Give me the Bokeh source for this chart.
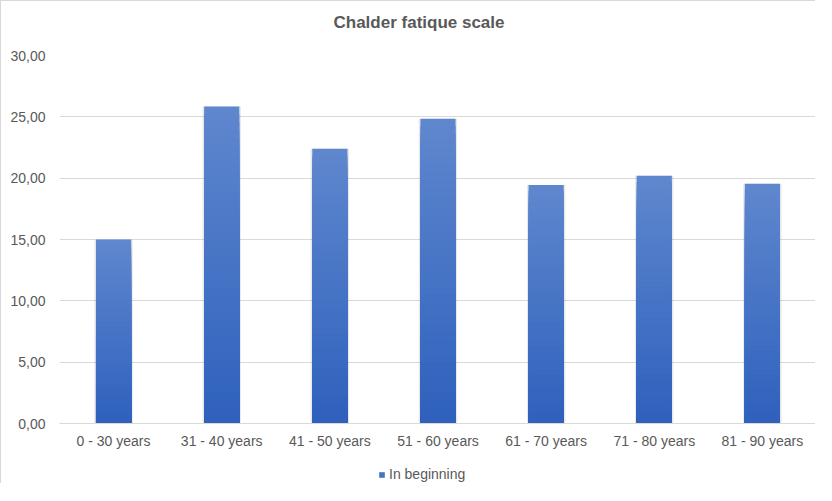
from bokeh.plotting import figure
from bokeh.layouts import column
from bokeh.core.properties import value
from bokeh.models import (ColumnDataSource, Range1d, FixedTicker, CustomJSTickFormatter,
                          Legend, LegendItem)
from bokeh.embed import file_html
from bokeh.resources import INLINE

categories = ["0 - 30 years", "31 - 40 years", "41 - 50 years", "51 - 60 years",
              "61 - 70 years", "71 - 80 years", "81 - 90 years"]
values = [15.0, 25.85, 22.4, 24.85, 19.45, 20.2, 19.55]
y_ticks = [0, 5, 10, 15, 20, 25, 30]
series_name = "In beginning"
chart_title = "Chalder fatique scale"

FONT = "Liberation Sans"
GREY = "#595959"
GRID = "#d9d9d9"
TOP_RGB = (95, 135, 206)
BOT_RGB = (46, 97, 189)
LEGEND_BLUE = "#4573c5"
BAR_W = 0.325
N = 40

# ---- header strip with the chart title ----
t = figure(width=815, height=46, x_range=Range1d(0, 757), y_range=Range1d(0, 46),
           output_backend="svg", toolbar_location=None, min_border=0)
t.styles = {"border-top": "1px solid #d9d9d9", "border-left": "1px solid #d9d9d9"}
t.axis.visible = False
t.grid.visible = False
t.outline_line_color = None
t.text(x=[274], y=[25], text=[chart_title], text_font=value(FONT), text_font_size="17px",
       text_font_style="bold", text_color=GREY, text_baseline="alphabetic", text_align="left")

# ---- main chart ----
p = figure(x_range=categories, y_range=Range1d(0, 30), width=815, height=413,
           output_backend="svg", toolbar_location=None,
           min_border_left=58, min_border_right=0, min_border_top=9, min_border_bottom=36)
p.styles = {"border-left": "1px solid #d9d9d9"}
p.outline_line_color = None
p.background_fill_color = "white"

# soft shadow
p.vbar(x=categories, top=values, width=BAR_W + 0.03, bottom=0,
       fill_color="#7f7f7f", fill_alpha=0.18, line_color=None)

# gradient bars: nested bars drawn from tallest (light) to shortest (dark)
xs, tops, cols = [], [], []
for k in range(N):
    f = (N - k) / N
    r = int(BOT_RGB[0] + (TOP_RGB[0] - BOT_RGB[0]) * f)
    g = int(BOT_RGB[1] + (TOP_RGB[1] - BOT_RGB[1]) * f)
    b = int(BOT_RGB[2] + (TOP_RGB[2] - BOT_RGB[2]) * f)
    c = "#%02x%02x%02x" % (r, g, b)
    for cat, v in zip(categories, values):
        xs.append(cat)
        tops.append(v * f)
        cols.append(c)
src = ColumnDataSource(dict(x=xs, top=tops, color=cols))
bars = p.vbar(x="x", top="top", bottom=0, width=BAR_W, source=src,
              fill_color="color", line_color=None)

p.xgrid.grid_line_color = None
p.ygrid.grid_line_color = GRID
p.ygrid.grid_line_width = 1

p.yaxis.ticker = FixedTicker(ticks=y_ticks)
p.yaxis.formatter = CustomJSTickFormatter(code="return tick.toFixed(2).replace('.', ',');")
p.yaxis.axis_line_color = None
p.yaxis.major_tick_line_color = None
p.yaxis.minor_tick_line_color = None
p.yaxis.major_label_standoff = 8
p.yaxis.major_label_text_font = FONT
p.yaxis.major_label_text_font_size = "14px"
p.yaxis.major_label_text_color = GREY

p.xaxis.axis_line_color = GRID
p.xaxis.major_tick_line_color = None
p.xaxis.minor_tick_line_color = None
p.xaxis.major_label_standoff = 3
p.xaxis.major_label_text_font = FONT
p.xaxis.major_label_text_font_size = "14px"
p.xaxis.major_label_text_color = GREY

# ---- legend strip below the chart ----
q = figure(width=815, height=24, x_range=Range1d(0, 1), y_range=Range1d(0, 1),
           output_backend="svg", toolbar_location=None, min_border=0)
q.styles = {"border-left": "1px solid #d9d9d9"}
q.axis.visible = False
q.grid.visible = False
q.outline_line_color = None
swatch = q.vbar(x=[10], top=[1], width=0.1, fill_color=LEGEND_BLUE, line_color=None)
legend = Legend(items=[LegendItem(label=series_name, renderers=[swatch])],
                location=(319, 1), orientation="horizontal",
                glyph_width=7, glyph_height=7, label_standoff=4, label_height=16,
                label_text_font=FONT, label_text_font_size="14px", label_text_color=GREY,
                border_line_color=None, background_fill_alpha=0, padding=0, margin=0)
q.add_layout(legend, "center")

layout = column(t, p, q, spacing=0)
open("out.html", "w").write(file_html(layout, INLINE))
